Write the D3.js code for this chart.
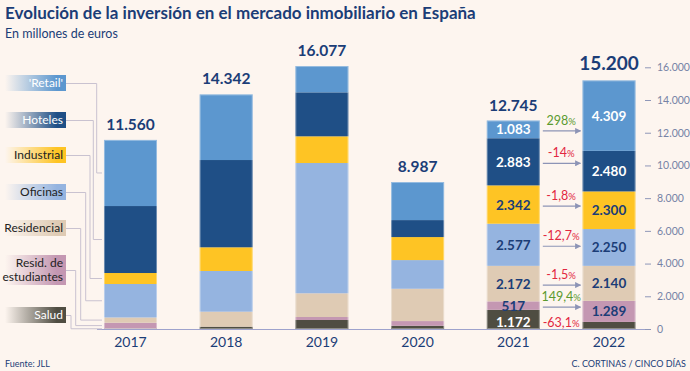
<!DOCTYPE html>
<html>
<head>
<meta charset="utf-8">
<script src="https://cdn.jsdelivr.net/npm/d3@7"></script>
<style>
  body { margin: 0; background: #fdf5ef; }
  svg { display: block; font-family: Lato, "Open Sans", sans-serif; }
</style>
</head>
<body>
<div id="chart"></div>
<script>
// Data (millones de euros), stacked bottom-up
const years = ["2017", "2018", "2019", "2020", "2021", "2022"];
const categories = ["Salud", "Resid. de estudiantes", "Residencial", "Oficinas", "Industrial", "Hoteles", "'Retail'"];
const salud       = [30, 141, 550, 200, 1172, 432];
const estudiantes = [355, 0, 183, 285, 517, 1289];
const residencial = [318, 917, 1449, 1975, 2172, 2140];
const oficinas    = [2048, 2488, 7966, 1754, 2577, 2250];
const industrial  = [672, 1449, 1632, 1406, 2342, 2300];
const hoteles     = [4095, 5336, 2689, 1039, 2883, 2480];
const retail      = [4042, 4011, 1608, 2328, 1083, 4309];
const totals      = ["11.560", "14.342", "16.077", "8.987", "12.745", "15.200"];
const changes     = ["-63,1", "149,4", "-1,5", "-12,7", "-1,8", "-14", "298"];
const yTicks      = [0, 2000, 4000, 6000, 8000, 10000, 12000, 14000, 16000];

const series = [salud, estudiantes, residencial, oficinas, industrial, hoteles, retail];
const colors = ["#4f4d42", "#c497b2", "#dfcbb4", "#95b4e0", "#fec424", "#1f4f86", "#5c97cf"];
const lightText = [true, false, false, false, false, true, true];

const width = 690, height = 371;
const navy = "#1b3d77";

const svg = d3.select("#chart").append("svg")
    .attr("width", width)
    .attr("height", height);

svg.append("rect").attr("width", width).attr("height", height).attr("fill", "#fdf5ef");

// Title
svg.append("text")
    .attr("x", 5).attr("y", 19)
    .attr("fill", navy)
    .style("font-size", "17px")
    .style("font-weight", "bold")
    .text("Evolución de la inversión en el mercado inmobiliario en España");
svg.append("text")
    .attr("x", 5).attr("y", 38)
    .attr("fill", navy)
    .style("font-size", "12.5px")
    .text("En millones de euros");

// Scales
const x = d3.scaleBand().domain(years).range([61.3, 678.2]).padding(0.446);
const y = d3.scaleLinear().domain([0, 16000]).range([329, 67.3]);

// Stack
const table = years.map((yr, i) => {
    const row = { year: yr };
    categories.forEach((c, k) => row[c] = series[k][i]);
    return row;
});
const stacked = d3.stack().keys(categories)(table);

// Right axis
const axis = svg.append("g")
    .attr("transform", "translate(645,0)")
    .call(d3.axisRight(y).tickValues(yTicks).tickSize(6).tickPadding(6)
        .tickFormat(d => d3.format(",")(d).replace(/,/g, ".")));
axis.select(".domain").remove();
axis.selectAll("line").attr("stroke", "#8f97b8");
axis.selectAll("text").attr("fill", "#7683a6").style("font-size", "10.5px")
    .style("font-family", "Lato, sans-serif");

// Baseline
svg.append("line")
    .attr("x1", 97).attr("x2", 645)
    .attr("y1", y(0) + 0.5).attr("y2", y(0) + 0.5)
    .attr("stroke", "#9ea2cc").attr("stroke-width", 1);

// Bars
stacked.forEach((layer, k) => {
    svg.append("g").selectAll("rect")
        .data(layer)
        .join("rect")
        .attr("x", d => x(d.data.year))
        .attr("width", x.bandwidth())
        .attr("y", d => y(d[1]))
        .attr("height", d => y(d[0]) - y(d[1]))
        .attr("fill", colors[k]);
});
// thin light outline on each bar
svg.append("g").selectAll("rect")
    .data(table)
    .join("rect")
    .attr("x", d => x(d.year) + 0.5)
    .attr("width", x.bandwidth() - 1)
    .attr("y", (d, i) => y(d3.sum(series, s => s[i])) + 0.5)
    .attr("height", (d, i) => y(0) - y(d3.sum(series, s => s[i])) - 1)
    .attr("fill", "none")
    .attr("stroke", "#ffffff")
    .attr("stroke-opacity", 0.35);

// Totals
svg.append("g").selectAll("text")
    .data(years)
    .join("text")
    .attr("x", d => x(d) + x.bandwidth() / 2)
    .attr("y", (d, i) => y(d3.sum(series, s => s[i])) - 10)
    .attr("text-anchor", "middle")
    .attr("fill", navy)
    .style("font-weight", "bold")
    .style("font-size", (d, i) => i === 5 ? "19px" : "15.5px")
    .text((d, i) => totals[i]);

// Segment values for 2021 and 2022
const fmt = v => d3.format(",")(v).replace(/,/g, ".");
stacked.forEach((layer, k) => {
    layer.forEach((d, i) => {
        if (i < 4) return;
        const v = series[k][i];
        if (v < 500) return;
        // the bottom label sits a little low so it clears the small one above
        const ly = k === 0 ? y(0) - 2 : (y(d[0]) + y(d[1])) / 2 + 5;
        svg.append("text")
            .attr("x", x(d.data.year) + x.bandwidth() / 2)
            .attr("y", ly)
            .attr("text-anchor", "middle")
            .attr("fill", lightText[k] ? "#ffffff" : navy)
            .style("font-weight", "bold")
            .style("font-size", "13.5px")
            .text(fmt(v));
    });
});

// Change arrows 2021 -> 2022
const defs = svg.append("defs");
defs.append("marker")
    .attr("id", "arrow")
    .attr("viewBox", "0 0 10 10")
    .attr("refX", 9).attr("refY", 5)
    .attr("markerWidth", 5).attr("markerHeight", 5)
    .attr("orient", "auto")
    .append("path")
    .attr("d", "M0,0 L10,5 L0,10 z")
    .attr("fill", "#8d94b6");

const x21 = x("2021") + x.bandwidth();
const x22 = x("2022");
const midX = (x21 + x22) / 2;
stacked.forEach((layer, k) => {
    const d = layer[4];
    const mid = (y(d[0]) + y(d[1])) / 2 + 1.5;
    const ch = changes[k];
    const color = ch.startsWith("-") ? "#e2273f" : "#5b9a2f";
    let labelY;
    if (k === 0) {
        labelY = y(0) - 2;
    } else {
        svg.append("line")
            .attr("x1", x21 + 3).attr("x2", x22 - 2)
            .attr("y1", mid).attr("y2", mid)
            .attr("stroke", "#8d94b6")
            .attr("stroke-width", 1.2)
            .attr("marker-end", "url(#arrow)");
        labelY = mid - 6;
    }
    const t = svg.append("text")
        .attr("x", midX)
        .attr("y", labelY)
        .attr("text-anchor", "middle")
        .attr("fill", color)
        .style("font-size", "12.5px");
    t.append("tspan").text(ch);
    t.append("tspan").style("font-size", "9.5px").text("%");
});

// Year labels
svg.append("g").selectAll("text")
    .data(years)
    .join("text")
    .attr("x", d => x(d) + x.bandwidth() / 2)
    .attr("y", 347)
    .attr("text-anchor", "middle")
    .attr("fill", navy)
    .style("font-size", "14px")
    .text(d => d);

// Legend on the left with connector lines to the 2017 bar
const legendY = [75, 112, 147, 184, 220, 255, 307];
const legendH = [16, 16, 16, 16, 16, 30, 16];
const connectorX = [71, 75.7, 80.7, 85.7, 90, 93.3, 96.7];
categories.forEach((c, k) => {
    const g = defs.append("linearGradient")
        .attr("id", "lg" + k)
        .attr("x1", "0%").attr("x2", "100%");
    g.append("stop").attr("offset", "0%").attr("stop-color", colors[k]).attr("stop-opacity", 0);
    g.append("stop").attr("offset", "85%").attr("stop-color", colors[k]).attr("stop-opacity", 1);

    const ly = legendY[6 - k];
    const lh = legendH[6 - k];
    svg.append("rect")
        .attr("x", 5).attr("y", ly)
        .attr("width", 61).attr("height", lh)
        .attr("fill", `url(#lg${k})`);

    const lines = c === "Resid. de estudiantes" ? ["Resid. de", "estudiantes"] : [c];
    lines.forEach((ln, j) => {
        svg.append("text")
            .attr("x", 63)
            .attr("y", ly + 12 + j * 14)
            .attr("text-anchor", "end")
            .attr("fill", lightText[k] ? "#ffffff" : "#222222")
            .style("font-size", "12px")
            .text(ln);
    });

    // connector
    const seg = stacked[k][0];
    const ty = (y(seg[0]) + y(seg[1])) / 2;
    const sy = ly + lh / 2 + 0.5;
    const cx = connectorX[k];
    svg.append("path")
        .attr("d", `M66,${sy} H${cx} V${ty} H${x("2017") - 2}`)
        .attr("fill", "none")
        .attr("stroke", "#c9c2d0")
        .attr("stroke-width", 1);
});

// Footer
svg.append("text")
    .attr("x", 5).attr("y", 367)
    .attr("fill", navy)
    .style("font-size", "9px")
    .text("Fuente: JLL");
svg.append("text")
    .attr("x", 686).attr("y", 367)
    .attr("text-anchor", "end")
    .attr("fill", navy)
    .style("font-size", "9px")
    .text("C. CORTINAS / CINCO DÍAS");
</script>
</body>
</html>
